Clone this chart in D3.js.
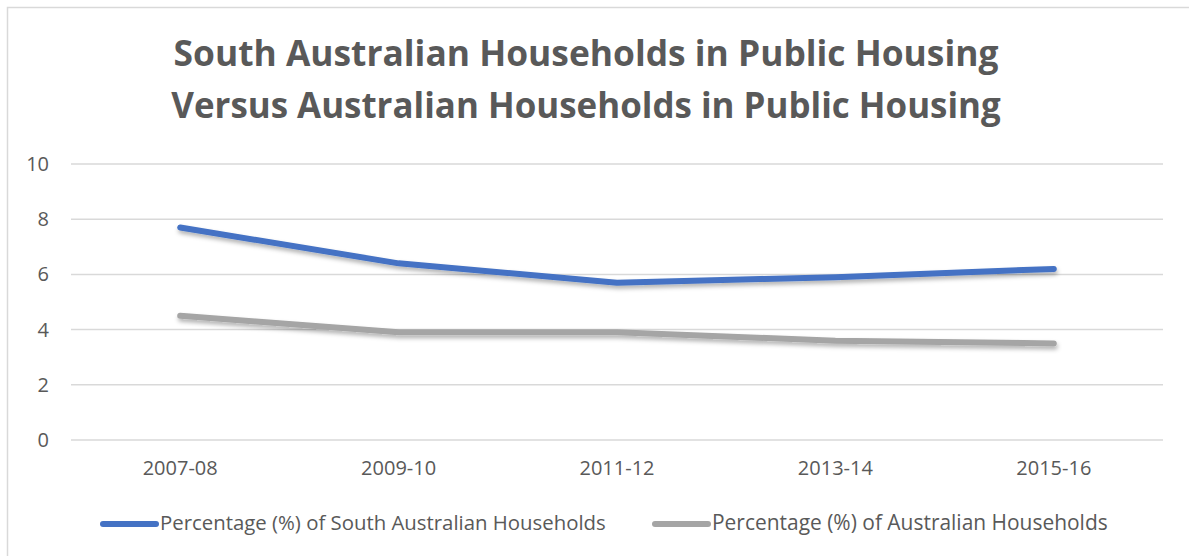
<!DOCTYPE html>
<head>
  <meta charset="utf-8">
  <script src="https://d3js.org/d3.v7.min.js"></script>
  <style>
    body { margin: 0; background: #fff; }
    text { font-family: "Open Sans", sans-serif; fill: #595959; }
  </style>
</head>
<body>
  <script>
    var categories = ["2007-08", "2009-10", "2011-12", "2013-14", "2015-16"];
    var southAustralia = [7.7, 6.4, 5.7, 5.9, 6.2];
    var australia = [4.5, 3.9, 3.9, 3.6, 3.5];
    var yTicks = [0, 2, 4, 6, 8, 10];
    var seriesNames = ["Percentage (%) of South Australian Households", "Percentage (%) of Australian Households"];
    var titleLines = ["South Australian Households in Public Housing", "Versus Australian Households in Public Housing"];

    var width = 1189, height = 556;
    var margin = {top: 164, right: 26, bottom: 116, left: 71};

    var svg = d3.select("body").append("svg")
      .attr("width", width)
      .attr("height", height);

    var defs = svg.append("defs");
    defs.append("filter").attr("id", "shadow")
        .attr("x", "-10%").attr("y", "-50%").attr("width", "120%").attr("height", "200%")
      .append("feDropShadow")
        .attr("dx", 1).attr("dy", 3).attr("stdDeviation", 2)
        .attr("flood-color", "#000").attr("flood-opacity", 0.3);

    // chart border
    svg.append("rect")
      .attr("x", 7.5).attr("y", 7.5)
      .attr("width", width + 10).attr("height", height + 10)
      .attr("fill", "none").attr("stroke", "#d9d9d9").attr("stroke-width", 1.5);

    // fit a text element to a target width by changing font size
    function fit(sel, target) {
      var fs = parseFloat(sel.attr("font-size"));
      var w = sel.node().getComputedTextLength();
      sel.attr("font-size", fs * target / w);
    }

    titleLines.forEach(function(t, i) {
      var tt = svg.append("text")
        .attr("x", 586).attr("y", 66 + i * 52)
        .attr("text-anchor", "middle")
        .attr("font-size", 36).attr("font-weight", "bold")
        .text(t);
      fit(tt, i == 0 ? 825 : 830);
    });

    var x = d3.scaleBand()
              .domain(categories)
              .range([margin.left, width - margin.right]);

    var y = d3.scaleLinear()
              .domain([0, 10])
              .range([height - margin.bottom, margin.top]);

    // gridlines
    svg.append("g").selectAll("line").data(yTicks)
      .enter().append("line")
        .attr("x1", margin.left).attr("x2", width - margin.right)
        .attr("y1", function(d) { return y(d); })
        .attr("y2", function(d) { return y(d); })
        .attr("stroke", "#d9d9d9").attr("stroke-width", 1.5);

    // y axis labels
    var yAxis = svg.append("g")
      .attr("transform", "translate(" + (margin.left - 22) + ",0)")
      .call(d3.axisLeft(y).tickValues(yTicks).tickSize(0).tickPadding(0));
    yAxis.select(".domain").remove();
    yAxis.selectAll("text").attr("font-size", 20).attr("font-family", "Open Sans").attr("fill", "#595959");

    // x axis labels
    var xAxis = svg.append("g")
      .attr("transform", "translate(0," + (height - margin.bottom) + ")")
      .call(d3.axisBottom(x).tickSize(0).tickPadding(21));
    xAxis.select(".domain").remove();
    xAxis.selectAll("text").attr("font-size", 20).attr("font-family", "Open Sans").attr("fill", "#595959");

    var line = d3.line()
      .x(function(d, i) { return x(categories[i]) + x.bandwidth() / 2; })
      .y(function(d) { return y(d); });

    var series = [
      {values: southAustralia, color: "#4472c4"},
      {values: australia, color: "#a5a5a5"}
    ];

    series.slice().reverse().forEach(function(s) {
      svg.append("path")
        .datum(s.values)
        .attr("d", line)
        .attr("fill", "none")
        .attr("stroke", s.color)
        .attr("stroke-width", 6)
        .attr("stroke-linecap", "round")
        .attr("stroke-linejoin", "round")
        .attr("filter", "url(#shadow)");
    });

    // legend
    var legendX = [101, 653];
    var legendW = [446, 396];
    series.forEach(function(s, i) {
      var g = svg.append("g").attr("transform", "translate(" + legendX[i] + ",524)");
      g.append("line")
        .attr("x1", 2).attr("x2", 55)
        .attr("stroke", s.color).attr("stroke-width", 6).attr("stroke-linecap", "round");
      var lt = g.append("text")
        .attr("x", 59).attr("y", 6)
        .attr("font-size", 18)
        .text(seriesNames[i]);
      fit(lt, legendW[i]);
    });
  </script>
</body>
